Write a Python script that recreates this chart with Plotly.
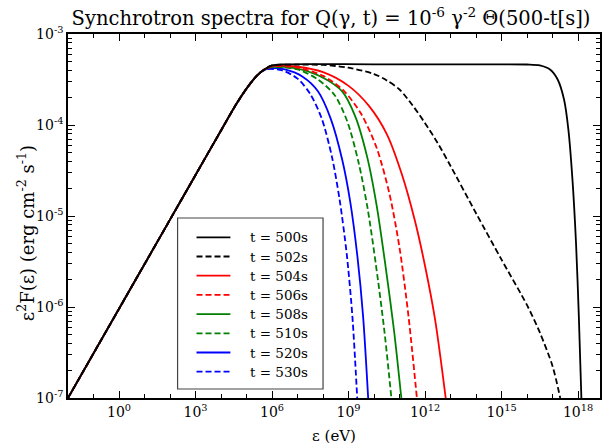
import numpy as np
import plotly.graph_objects as go

# Energies are given as log10(eps / eV), fluxes as log10(eps^2 F) in erg cm^-2 s^-1.
# Low-energy branch shared by every snapshot.
rise_logE = [-2.0, 0.0, 2.0, 3.0, 4.0, 4.6, 5.0, 5.4]
rise_logF = [-7.0, -6.02, -5.04, -4.55, -4.06, -3.77, -3.60, -3.46]

times = ["500s", "502s", "504s", "506s", "508s", "510s", "520s", "530s"]

tail_logE = {
    "500s": [5.7, 6.0, 6.5, 10.0, 15.0, 16.0, 16.5, 16.9, 17.2, 17.45, 17.62, 17.78, 17.92, 18.03, 18.13],
    "502s": [5.7, 6.0, 7.0, 8.0, 9.0, 10.0, 10.5, 11.0, 11.5, 12.0, 12.5, 13.0, 14.0, 15.0, 16.0, 16.5, 17.0, 17.3],
    "504s": [5.7, 6.0, 7.0, 8.0, 9.0, 9.8, 10.5, 11.1, 11.6, 12.0, 12.4, 12.81],
    "506s": [5.7, 6.0, 7.0, 8.0, 8.8, 9.5, 10.1, 10.6, 11.0, 11.35, 11.68],
    "508s": [5.7, 6.0, 7.0, 8.0, 8.75, 9.27, 9.73, 10.1, 10.45, 10.78, 11.07],
    "510s": [5.7, 6.0, 7.0, 7.8, 8.45, 8.95, 9.4, 9.75, 10.08, 10.4, 10.68],
    "520s": [5.65, 5.95, 6.5, 7.2, 7.8, 8.3, 8.75, 9.07, 9.35, 9.57, 9.77],
    "530s": [5.6, 5.86, 6.4, 7.0, 7.5, 7.95, 8.35, 8.65, 8.93, 9.15, 9.34],
}
tail_logF = {
    "500s": [-3.39, -3.345, -3.333, -3.333, -3.333, -3.335, -3.345, -3.39, -3.5, -3.72, -4.05, -4.6, -5.3, -6.1, -7.0],
    "502s": [-3.39, -3.345, -3.337, -3.34, -3.37, -3.44, -3.51, -3.61, -3.78, -3.98, -4.2, -4.45, -4.97, -5.48, -5.98, -6.28, -6.65, -7.0],
    "504s": [-3.39, -3.35, -3.36, -3.42, -3.57, -3.79, -4.1, -4.55, -5.05, -5.55, -6.15, -7.0],
    "506s": [-3.39, -3.355, -3.37, -3.46, -3.62, -3.88, -4.25, -4.75, -5.35, -6.1, -7.0],
    "508s": [-3.39, -3.36, -3.38, -3.48, -3.63, -3.91, -4.35, -4.88, -5.55, -6.25, -7.0],
    "510s": [-3.39, -3.365, -3.39, -3.5, -3.67, -3.96, -4.42, -4.92, -5.55, -6.25, -7.0],
    "520s": [-3.40, -3.377, -3.39, -3.47, -3.63, -3.93, -4.38, -4.85, -5.45, -6.1, -7.0],
    "530s": [-3.41, -3.385, -3.40, -3.49, -3.66, -3.93, -4.35, -4.82, -5.42, -6.1, -7.0],
}

colors = ["black", "black", "red", "red", "green", "green", "blue", "blue"]
dashes = ["solid", "6px,3px"] * 4

FONT = "DejaVu Serif"

fig = go.Figure()
# Latest snapshot first so the t = 500s curve sits on top of the shared branch.
for t, c, d in reversed(list(zip(times, colors, dashes))):
    le = np.array(rise_logE + tail_logE[t])
    lf = np.array(rise_logF + tail_logF[t])
    fig.add_trace(go.Scatter(
        x=10 ** le, y=10 ** lf, mode="lines", name=f"t = {t}", showlegend=False,
        line=dict(color=c, width=1.8, dash=d, shape="spline", smoothing=0.8),
    ))

# Legend panel drawn in paper coordinates.
X0_PX, W_PX, T_PX, B_PX = 68, 534, 34, 398
def px(x):
    return (x - X0_PX) / W_PX
def py(y):
    return (B_PX - y) / (B_PX - T_PX)

shapes = [dict(type="rect", xref="paper", yref="paper",
               x0=px(178), x1=px(324), y0=py(389), y1=py(218),
               line=dict(color="#444444", width=1.2), fillcolor="white", layer="above")]
annotations = []
row_y = [237.3, 256.5, 275.7, 294.9, 314.1, 333.3, 352.5, 371.7]
for (t, c, d, ry) in zip(times, colors, dashes, row_y):
    shapes.append(dict(type="line", xref="paper", yref="paper",
                       x0=px(197), x1=px(231), y0=py(ry), y1=py(ry),
                       line=dict(color=c, width=1.8, dash=d), layer="above"))
    annotations.append(dict(text=f"t = {t}", xref="paper", yref="paper",
                            x=px(249), y=py(ry), xanchor="left", yanchor="middle",
                            showarrow=False, font=dict(family=FONT, size=13.5)))

minor_y = [m * 10.0 ** e for e in range(-7, -3) for m in range(2, 10)]

annotations += [
    dict(text="ε (eV)", xref="paper", yref="paper", x=0.5, y=py(436),
         xanchor="center", yanchor="middle", showarrow=False,
         font=dict(family=FONT, size=15)),
    dict(text="ε<sup>2</sup>F(ε) (erg cm<sup>-2</sup> s<sup>-1</sup>)",
         xref="paper", yref="paper", x=px(26), y=py(233), textangle=-90,
         xanchor="center", yanchor="middle", showarrow=False,
         font=dict(family=FONT, size=18)),
]

fig.update_layout(
    width=604, height=445,
    margin=dict(l=68, r=2, t=34, b=47),
    plot_bgcolor="white", paper_bgcolor="white",
    font=dict(family=FONT, size=14, color="black"),
    title=dict(
        text="Synchrotron spectra for Q(γ, t) = 10<sup>-6</sup> γ<sup>-2</sup> Θ(500-t[s])",
        x=331 / 604, xanchor="center", y=1 - 18 / 445, yanchor="middle",
        font=dict(family=FONT, size=19.5),
    ),
    showlegend=False,
    shapes=shapes,
    annotations=annotations,
    xaxis=dict(
        type="log", range=[-2, 18.86],
        showline=True, linecolor="black", linewidth=1.5, mirror="allticks",
        showgrid=False, zeroline=False,
        ticks="inside", ticklen=7, tickcolor="black",
        tickmode="array", tickvals=[10.0 ** k for k in range(0, 19, 3)],
        ticktext=[f"10<sup>{k}</sup>" for k in range(0, 19, 3)],
        minor=dict(ticks="inside", ticklen=4, tickcolor="black",
                   tickvals=[10.0 ** k for k in range(-2, 19)], showgrid=False),
        tickfont=dict(family=FONT, size=14),
    ),
    yaxis=dict(
        type="log", range=[-7, -3],
        showline=True, linecolor="black", linewidth=1.5, mirror="allticks",
        showgrid=False, zeroline=False,
        ticks="inside", ticklen=7, tickcolor="black",
        tickmode="array", tickvals=[10.0 ** k for k in range(-7, -2)],
        ticktext=[f"10<sup>{k}</sup>" for k in range(-7, -2)],
        minor=dict(ticks="inside", ticklen=4, tickcolor="black",
                   tickvals=minor_y, showgrid=False),
        tickfont=dict(family=FONT, size=14),
    ),
)

fig.write_html("out.html")
